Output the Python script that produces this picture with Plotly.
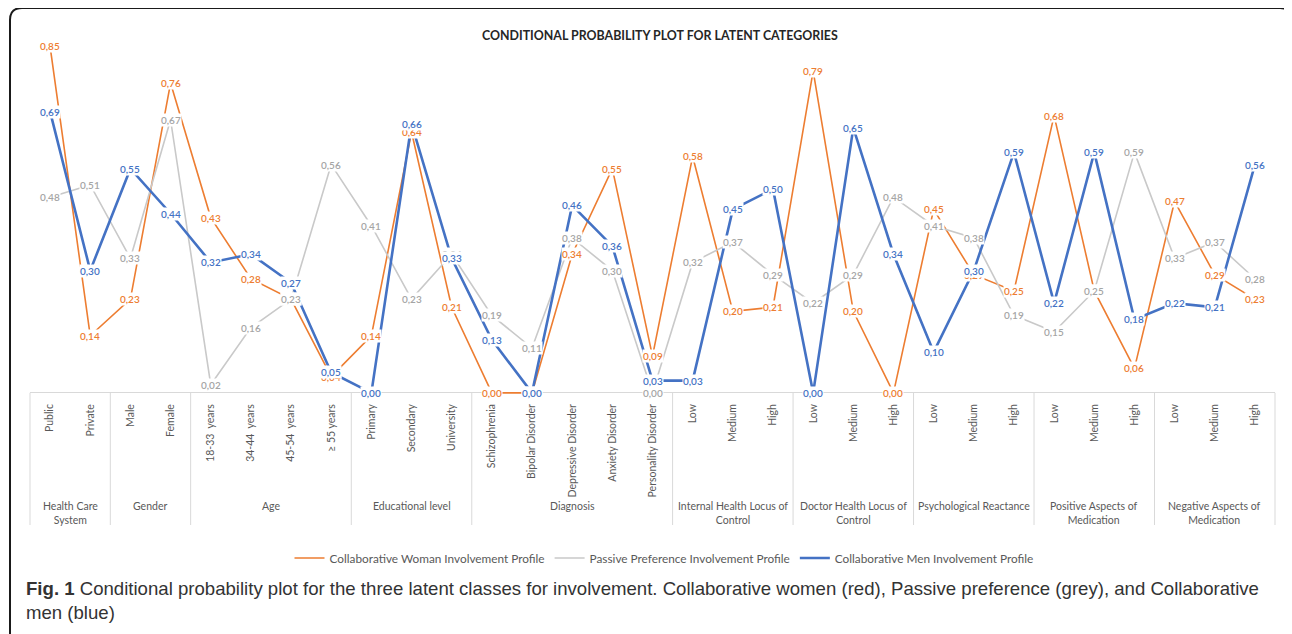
import plotly.graph_objects as go

categories = ["Public", "Private", "Male", "Female",
              "18-33  years", "34-44  years", "45-54  years", "≥ 55 years",
              "Primary", "Secondary", "University",
              "Schizophrenia", "Bipolar Disorder", "Depressive Disorder", "Anxiety Disorder", "Personality Disorder",
              "Low", "Medium", "High",
              "Low", "Medium", "High",
              "Low", "Medium", "High",
              "Low", "Medium", "High",
              "Low", "Medium", "High"]

groups = ["Health Care<br>System", "Gender", "Age", "Educational level", "Diagnosis",
          "Internal Health Locus of<br>Control", "Doctor Health Locus of<br>Control",
          "Psychological Reactance", "Positive Aspects of<br>Medication", "Negative Aspects of<br>Medication"]
group_sizes = [2, 2, 4, 3, 5, 3, 3, 3, 3, 3]

collab_woman = [0.85, 0.14, 0.23, 0.76, 0.43, 0.28, 0.23, 0.04, 0.14, 0.64, 0.21,
                0.00, 0.00, 0.34, 0.55, 0.09, 0.58, 0.20, 0.21, 0.79, 0.20, 0.00,
                0.45, 0.29, 0.25, 0.68, 0.25, 0.06, 0.47, 0.29, 0.23]
passive_pref = [0.48, 0.51, 0.33, 0.67, 0.02, 0.16, 0.23, 0.56, 0.41, 0.23, 0.34,
                0.19, 0.11, 0.38, 0.30, 0.00, 0.32, 0.37, 0.29, 0.22, 0.29, 0.48,
                0.41, 0.38, 0.19, 0.15, 0.25, 0.59, 0.33, 0.37, 0.28]
collab_men = [0.69, 0.30, 0.55, 0.44, 0.32, 0.34, 0.27, 0.05, 0.00, 0.66, 0.33,
              0.13, 0.00, 0.46, 0.36, 0.03, 0.03, 0.45, 0.50, 0.00, 0.65, 0.34,
              0.10, 0.30, 0.59, 0.22, 0.59, 0.18, 0.22, 0.21, 0.56]

series = [
    ("Collaborative Woman Involvement Profile", collab_woman, "#ED7D31", "#ED7D31", 1.6),
    ("Passive Preference Involvement Profile", passive_pref, "#C9C9C9", "#A5A5A5", 1.6),
    ("Collaborative Men Involvement Profile", collab_men, "#4472C4", "#4472C4", 2.6),
]

OFF = 8  # page body margin of the html page
W, H = 1292 - OFF, 634 - OFF
L, R, T, B = 30 - OFF, 1275 - OFF, 26 - OFF, 401 - OFF
YMIN, YMAX = -0.02, 0.9
FONT = "Lato, Open Sans, sans-serif"
GREY_TXT = "#595959"


def px_x(p):
    return (p - OFF - L) / (R - L)


def px_y(p):
    return (B - (p - OFF)) / (B - T)


x_idx = list(range(len(categories)))
n = len(categories)

fig = go.Figure()
for name, vals, col, _, w in series:
    fig.add_trace(go.Scatter(x=x_idx, y=vals, mode="lines", name=name,
                             line=dict(color=col, width=w), hoverinfo="skip"))

annotations = []
for name, vals, _, tcol, _ in series:
    for i, v in enumerate(vals):
        annotations.append(dict(x=i, y=v, xref="x", yref="y", text=f"{v:.2f}".replace(".", ","),
                                showarrow=False, bgcolor="white", borderpad=0,
                                font=dict(family=FONT, size=10, color=tcol, weight=600),
                                xanchor="center", yanchor="middle"))

# group labels and dividers
shapes = []
zero_p = (0 - YMIN) / (YMAX - YMIN)
cum = 0
bounds = [0]
for g, s in zip(groups, group_sizes):
    center = (cum + s / 2) / n
    annotations.append(dict(x=center, y=px_y(498), xref="paper", yref="paper", text=g,
                            showarrow=False, xanchor="center", yanchor="top", align="center",
                            font=dict(family=FONT, size=10.5, color=GREY_TXT)))
    cum += s
    bounds.append(cum)
for b in bounds:
    shapes.append(dict(type="line", xref="paper", yref="paper", x0=b / n, x1=b / n,
                       y0=zero_p, y1=px_y(525), line=dict(color="#D9D9D9", width=1)))

# title
annotations.append(dict(x=px_x(660), y=px_y(36), xref="paper", yref="paper",
                        text="CONDITIONAL PROBABILITY PLOT FOR LATENT CATEGORIES",
                        showarrow=False, xanchor="center", yanchor="middle",
                        font=dict(family=FONT, size=12.4, color="#262626", weight=700)))

# caption
annotations.append(dict(x=px_x(24), y=px_y(576), xref="paper", yref="paper",
                        text="<b>Fig. 1</b> Conditional probability plot for the three latent classes for involvement. "
                             "Collaborative women (red), Passive preference (grey), and Collaborative<br>men (blue)",
                        showarrow=False, xanchor="left", yanchor="top", align="left",
                        font=dict(family="Liberation Sans, Arial, sans-serif", size=18.6, color="#333333")))

# frame
path = (f"M {px_x(10)},{px_y(634)} L {px_x(10)},{px_y(20)} "
        f"Q {px_x(10)},{px_y(8)} {px_x(22)},{px_y(8)} L {px_x(1280)},{px_y(8)} "
        f"Q {px_x(1291)},{px_y(8)} {px_x(1291)},{px_y(20)} L {px_x(1291)},{px_y(634)}")
shapes.append(dict(type="path", xref="paper", yref="paper", path=path,
                   line=dict(color="#1a1a1a", width=2)))

fig.update_layout(
    width=W, height=H,
    margin=dict(l=L, r=W - R, t=T, b=H - B, pad=0),
    paper_bgcolor="white", plot_bgcolor="white",
    showlegend=True,
    legend=dict(orientation="h", x=px_x(664), xanchor="center", y=px_y(558), yanchor="middle",
                font=dict(family=FONT, size=11.8, color=GREY_TXT), itemwidth=30),
    xaxis=dict(range=[-0.5, n - 0.5], tickmode="array", tickvals=x_idx, ticktext=categories,
               tickangle=-90, showgrid=False, zeroline=False, showline=False, ticks="",
               tickfont=dict(family=FONT, size=10.5, color=GREY_TXT), fixedrange=True),
    yaxis=dict(range=[YMIN, YMAX], showgrid=False, showticklabels=False, ticks="",
               zeroline=True, zerolinecolor="#D9D9D9", zerolinewidth=1, fixedrange=True),
    annotations=annotations,
    shapes=shapes,
)

fig.write_html("out.html")
